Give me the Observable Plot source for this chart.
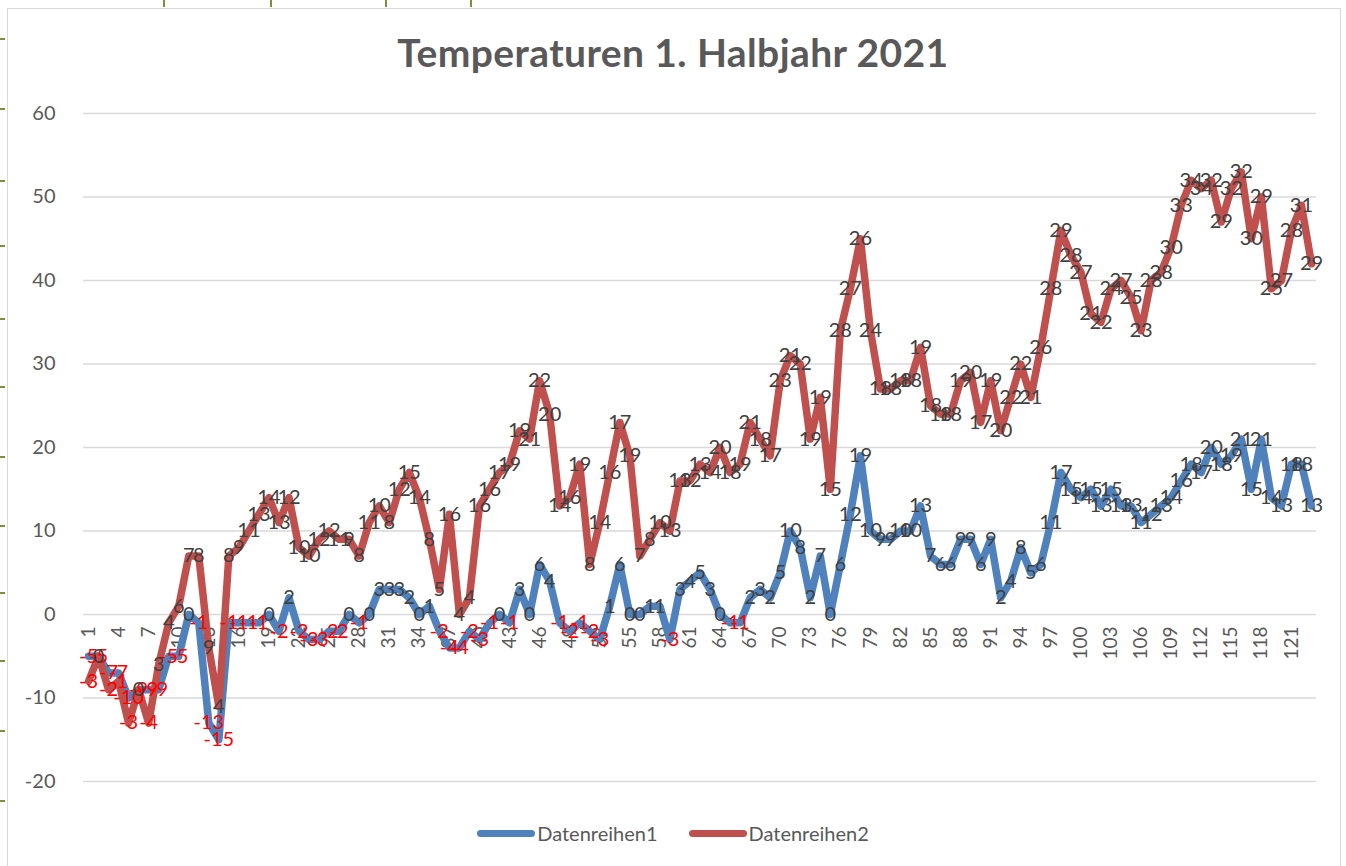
<!DOCTYPE html>
<html>
<head>
<meta charset="utf-8">
<script src="https://cdn.jsdelivr.net/npm/d3@7"></script>
<script src="https://cdn.jsdelivr.net/npm/@observablehq/plot@0.6"></script>
<style>
  body { margin: 0; background: #fff; font-family: Lato, "Open Sans", sans-serif; }
  #wrap { position: relative; width: 1346px; height: 866px; overflow: hidden; background: #fff; }
  #frame { position: absolute; left: 7px; top: 8px; width: 1334px; height: 880px; border: 1px solid #d9d9d9; box-sizing: border-box; }
  .gm { position: absolute; background: #77933c; }
  #title { position: absolute; left: 0; top: 33px; width: 1346px; text-align: center; font: bold 39px/1 Lato, sans-serif; letter-spacing: 0.4px; color: #595959; }
  #chart { position: absolute; left: 0; top: 100px; }
  #legend { position: absolute; left: 0; top: 800px; width: 1346px; height: 66px; display: flex; justify-content: center; align-items: center; font: 20px Lato, sans-serif; color: #595959; }
  .item { display: flex; align-items: center; }
  .sw { width: 58px; height: 7px; border-radius: 4px; margin-right: 2px; }
  .item + .item { margin-left: 31px; }
</style>
</head>
<body>
<div id="wrap">
  <div id="frame"></div>
  <div id="title"></div>
  <div id="chart"></div>
  <div id="legend"></div>
</div>
<script>
// Series values (Datenreihen2 is stacked on top of Datenreihen1)
const series1 = [-5,-5,-7,-7,-10,-9,-9,-9,-5,-5,0,-1,-13,-15,-1,-1,-1,-1,0,-2,
  2,-2,-3,-3,-2,-2,0,-1,0,3,3,3,2,0,1,-2,-4,-4,-2,-3,
  -1,0,-1,3,0,6,4,-1,-2,-1,-2,-3,1,6,0,0,1,1,-3,3,
  4,5,3,0,-1,-1,2,3,2,5,10,8,2,7,0,6,12,19,10,9,
  9,10,10,13,7,6,6,9,9,6,9,2,4,8,5,6,11,17,15,14,
  15,13,15,13,13,11,12,13,14,16,18,17,20,18,19,21,15,21,14,13,
  18,18,13];
const series2 = [-3,0,-2,-1,-3,0,-4,3,4,6,7,8,9,4,8,9,11,13,14,13,
  12,10,10,12,12,11,9,8,11,10,8,12,15,14,8,5,16,4,4,16,
  16,17,19,19,21,22,20,14,16,19,8,14,16,17,19,7,8,10,13,13,
  12,13,14,20,18,19,21,18,17,23,21,22,19,19,15,28,27,26,24,18,
  18,18,18,19,18,18,18,19,20,17,19,20,22,22,21,26,28,29,28,27,
  21,22,24,27,25,23,28,28,30,33,34,34,32,29,32,32,30,29,25,27,
  28,31,29];
const seriesNames = ["Datenreihen1", "Datenreihen2"];
const seriesColors = ["#4f81bd", "#c0504d"];
const yTicks = [-20,-10,0,10,20,30,40,50,60];
const xTickLabels = [1,4,7,10,13,16,19,22,25,28,31,34,37,40,43,46,49,52,55,58,61,64,67,70,73,76,79,82,85,88,91,94,97,100,103,106,109,112,115,118,121];
const titleText = "Temperaturen 1. Halbjahr 2021";

const rows = series1.map((b, k) => ({i: k + 1, b, r: series2[k], s: b + series2[k]}));
const labelFont = 20;
const pos = "#404040", neg = "#ff0000";

const chart = Plot.plot({
  width: 1346, height: 700,
  marginLeft: 83, marginRight: 30, marginTop: 13, marginBottom: 19,
  x: {type: "linear", domain: [0.5, series1.length + 0.5], axis: null},
  y: {domain: [-20, 60], axis: null},
  style: {fontFamily: "Lato, sans-serif", background: "transparent", overflow: "visible"},
  marks: [
    Plot.gridY(yTicks, {stroke: "#d9d9d9", strokeOpacity: 1, strokeWidth: 1.5}),
    Plot.text(yTicks, {y: d => d, frameAnchor: "left", textAnchor: "end", dx: -28, text: d => String(d), fill: "#595959", fontSize: 20}),
    Plot.text(xTickLabels, {x: d => d, y: () => 0, text: d => String(d), rotate: -90, textAnchor: "end", lineAnchor: "middle", dy: 12, fill: "#595959", fontSize: 19}),
    Plot.line(rows, {x: "i", y: "b", stroke: seriesColors[0], strokeWidth: 7.5, strokeLinejoin: "round", strokeLinecap: "round"}),
    Plot.line(rows, {x: "i", y: "s", stroke: seriesColors[1], strokeWidth: 7.5, strokeLinejoin: "round", strokeLinecap: "round"}),
    Plot.text(rows.filter(d => d.b >= 0), {x: "i", y: "b", text: d => String(d.b), fill: pos, fontSize: labelFont}),
    Plot.text(rows.filter(d => d.b < 0), {x: "i", y: "b", text: d => String(d.b), fill: neg, fontSize: labelFont}),
    Plot.text(rows.filter(d => d.r >= 0), {x: "i", y: "s", text: d => String(d.r), fill: pos, fontSize: labelFont}),
    Plot.text(rows.filter(d => d.r < 0), {x: "i", y: "s", text: d => String(d.r), fill: neg, fontSize: labelFont})
  ]
});
document.getElementById("chart").appendChild(chart);
document.getElementById("title").textContent = titleText;

const legend = document.getElementById("legend");
seriesNames.forEach((n, k) => {
  const it = document.createElement("div");
  it.className = "item";
  it.innerHTML = `<div class="sw" style="background:${seriesColors[k]}"></div><span>${n}</span>`;
  legend.appendChild(it);
});

// spreadsheet grid marks around the chart object
const wrap = document.getElementById("wrap");
[163, 270, 385, 470].forEach(x => {
  const d = document.createElement("div"); d.className = "gm";
  Object.assign(d.style, {left: x + "px", top: "0px", width: "2px", height: "7px"});
  wrap.appendChild(d);
});
[38, 108, 180, 245, 318, 386, 456, 525, 592, 660, 730, 800].forEach(y => {
  const d = document.createElement("div"); d.className = "gm";
  Object.assign(d.style, {left: "0px", top: y + "px", width: "5px", height: "2px"});
  wrap.appendChild(d);
});
</script>
</body>
</html>
